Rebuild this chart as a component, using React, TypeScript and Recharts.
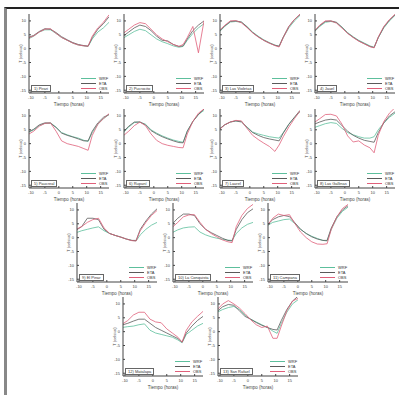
import { LineChart, Line, XAxis, YAxis, Legend } from "recharts"

const hours = [-11, -9, -7, -5, -3, -1, 1, 3, 5, 7, 9, 10.5, 12, 14, 16, 18]
const xTicks = [-10, -5, 0, 5, 10, 15]
const yTicks = [-15, -10, -5, 0, 5, 10]
const seriesKeys = ["wrf", "eta", "obs"]
const seriesNames = ["WRF", "ETA", "OBS"]

const stationNames = [
  "1) Pirari",
  "2) Pucrocito",
  "3) Las Violetas",
  "4) Jauel",
  "5) Paucreal",
  "6) Rupaní",
  "7) Laurel",
  "8) Las Gallinas",
  "9) El Pinar",
  "10) La Conquista",
  "11) Campana",
  "12) Matalapa",
  "13) San Rafael",
]

const wrf = [
  [3.5, 4.5, 6, 6.8, 6.8, 5.5, 4, 3, 2, 1.3, 1, 0.8, 3.5, 6, 7.5, 9.5],
  [3.8, 5, 6.2, 7, 6.5, 5, 3.5, 2.5, 1.8, 1, 0.5, 0.8, 3, 5.5, 7.5, 9],
  [6, 8, 9.6, 9.8, 9.5, 8, 6, 4.5, 3.2, 2.2, 1.3, 0.8, 4, 7.5, 10, 12],
  [6, 8, 9.5, 9.8, 9.4, 7.8, 5.8, 4.3, 3, 2, 1, 0.5, 4, 7.5, 10, 12],
  [4, 5, 6.5, 7.3, 7.5, 6, 4, 3.2, 2.5, 2, 1.2, 0.8, 4, 7, 9, 10.5],
  [4, 6, 7.6, 7.8, 7, 5, 3.8, 2.8, 2, 1.3, 0.8, 0.5, 4.5, 8, 10.5, 12],
  [5.2, 6.8, 7.8, 8.2, 8, 6, 4.2, 3.5, 3, 2.5, 2.2, 2, 4, 7, 9.5, 11.5],
  [5.8, 6.5, 7.2, 7.6, 7.3, 5.5, 4, 3.2, 2.5, 2, 2, 2.5, 5, 7.5, 9.5, 11],
  [1.8, 2.5, 3, 3.5, 3.9, 2.5, 1.5, 0.8, 0.2, -0.5, -1, -1.2, 1, 3, 4.5, 5.5],
  [1.8, 2.8, 3.5, 3.8, 3.9, 2, 1, 0.3, -0.2, -0.6, -0.9, -1, 1.5, 3.5, 4.8, 5.5],
  [4.3, 5.5, 6, 6.5, 6.7, 5, 3, 1.5, 0.5, -0.3, -1, -1.2, 3, 7, 9.5, 11],
  [1.5, 1.8, 2, 2.5, 2.8, 0.5, -0.5, -1, -1.5, -2, -3, -4, -1, 0.5, 2, 3],
  [7, 8, 8.7, 9.1, 8, 6, 4.5, 3.5, 2.5, 1.5, 0.2, -0.6, 3, 7, 10, 11.5],
]

const eta = [
  [4, 4.8, 6.2, 7.2, 7, 5.8, 4.3, 3.2, 2.2, 1.5, 1.1, 0.9, 4, 7, 9, 11.5],
  [4.5, 6, 7.5, 8.5, 8, 6.5, 4.5, 3, 2.8, 1.5, 0.8, 1, 3.5, 6.5, 8.5, 10],
  [6.2, 8.2, 9.8, 10, 9.6, 7.8, 5.8, 4.3, 3, 2, 1.2, 0.9, 4.2, 8, 10.5, 12.3],
  [6.2, 8.3, 9.8, 10, 9.5, 7.6, 5.6, 4.1, 2.8, 1.8, 0.8, 0.4, 4, 7.8, 10.3, 12.2],
  [4.2, 5.2, 6.8, 7.5, 7.4, 5.8, 3.8, 3, 2.4, 1.7, 1, 1, 4.5, 7.5, 9.5, 10.5],
  [4.2, 6.3, 7.8, 7.8, 6.8, 4.7, 3.5, 2.5, 1.7, 1, 0.4, 0.3, 4.5, 8, 10.5, 12.5],
  [5.2, 6.8, 7.8, 8.2, 7.8, 5.8, 4, 3, 2.2, 1.7, 1.3, 1, 3.8, 7, 9.5, 12],
  [7, 7.8, 8.5, 8.8, 8.5, 6.5, 4.5, 3, 2, 1.2, 0.8, 0.5, 4, 7.5, 10, 11.5],
  [2.7, 4, 7, 7, 6.5, 3, 1.5, 0.8, 0.2, -0.5, -1, -1, 3, 6, 8.5, 10.4],
  [4.9, 7, 8.5, 8.5, 8, 5, 3, 1.8, 0.8, -0.2, -1, -1.2, 3, 6.5, 9, 10.4],
  [4.5, 6.5, 7.5, 8, 7.6, 5.3, 3, 1.5, 0.3, -0.5, -1, -1, 3.5, 7.5, 10, 11.5],
  [2.4, 3, 3.8, 4.5, 4.5, 3, 1.5, 0.5, -0.5, -1.5, -2.5, -3.8, -0.5, 2, 4, 5.5],
  [7.3, 9, 9.8, 9.5, 7.5, 5.5, 4.5, 3.3, 2.3, 1.5, 0.8, 0.6, 4, 8, 11, 12.8],
]

const obs = [
  [3.8, 4.6, 6, 7, 7.2, 5.5, 4, 3, 2, 1.3, 1, 0.9, 4.5, 7.5, 9.5, 12.2],
  [5.5, 7, 8.5, 9.4, 9, 7, 5, 3.5, 2.5, 1.5, 0.8, 1.5, 4, 8, -1.5, 10],
  [6.5, 8.4, 10, 10.1, 9.3, 7.6, 5.7, 4.2, 3, 2, 1.1, 0.6, 4, 8, 10.5, 12.5],
  [6.3, 8.5, 10, 10, 9.2, 7.4, 5.5, 4, 2.7, 1.7, 0.7, 0.3, 4.2, 8, 10.5, 12.4],
  [3.3, 4.5, 6.3, 7.3, 7.5, 4.5, 1, 0, -0.5, -1, -1.8, -2.4, 3, 7, 9, 10.8],
  [2.8, 4.5, 6.5, 7.8, 6.5, 3.5, 1.2, 0, -0.6, -1, -1.4, -1.5, 3.5, 8, 11, 12.5],
  [5, 6.8, 7.8, 8.4, 8.2, 5.5, 3, 1.5, 0.2, -1, -2.8, -0.5, 2.5, 6, 9, 11.8],
  [7.6, 9, 10.5, 10.6, 10, 7, 2.8, 0.6, 1, -0.5, -1.5, -3.3, 3, 8, 11, 13],
  [3, 4, 5.5, 6.5, 7, 3.5, 1.5, 0.8, 0.2, -0.5, -1.1, -1.2, 2.5, 5.5, 8, 9.8],
  [3.7, 5.5, 7.5, 8.2, 8.3, 5.5, 3, 1.5, 0.3, -0.8, -1.5, -1.8, 4, 8, 10.5, 12],
  [4.3, 7, 8.5, 8, 8.3, 5, 2, 0, -1.5, -2.3, -2.4, -2.2, 3, 7.5, 10.5, 12],
  [2.7, 4, 6, 7, 7, 4.5, 3.5, 3.2, 1, -0.5, -2, -3.8, 0.5, 3.5, 5.5, 7.3],
  [7.9, 10, 11.2, 10, 8.5, 6.5, 4.3, 2.5, 1.5, 2, -2.4, -2.4, 2, 7.5, 11, 12],
]

// plot-area top-left corner of every panel
const panelPos = [
  [29, 14], [124, 14], [220, 14], [315, 14],
  [29, 109], [124, 109], [220, 109], [315, 109],
  [77, 203], [173, 203], [268, 203],
  [123, 297], [218, 297],
]

const PLOT_W = 80
const PLOT_H = 79
const Y_W = 16
const X_H = 14
const FONT = "'Liberation Sans', Arial, sans-serif"
const AXIS = "#444"

const colors: Record<string, string> = { wrf: "#5dbf9c", eta: "#5a5a5a", obs: "#e0607a" }

function panelLegend(name: string) {
  return () => (
    <div style={{ position: "relative", width: PLOT_W, height: 18, fontFamily: FONT, fontSize: 4, color: "#333" }}>
      <div
        style={{
          position: "absolute",
          left: 2,
          bottom: 1,
          border: "0.6px solid #666",
          padding: "0 2px",
          lineHeight: "5px",
          background: "#fff",
          whiteSpace: "nowrap",
        }}
      >
        {name}
      </div>
      <div style={{ position: "absolute", right: 2, bottom: 2 }}>
        {seriesKeys.map((k, i) => (
          <div key={k} style={{ display: "flex", alignItems: "center", height: 5, justifyContent: "flex-end" }}>
            <span style={{ width: 15, height: 0, borderTop: `0.8px solid ${colors[k]}`, marginRight: 3 }} />
            <span style={{ width: 8, lineHeight: "5px" }}>{seriesNames[i]}</span>
          </div>
        ))}
      </div>
    </div>
  )
}

function Panel({ idx }: { idx: number }) {
  const [left, top] = panelPos[idx]
  const data = hours.map((h, i) => ({ h, wrf: wrf[idx][i], eta: eta[idx][i], obs: obs[idx][i] }))
  return (
    <div style={{ position: "absolute", left: left - Y_W, top: top - 2 }}>
      <LineChart width={Y_W + PLOT_W + 2} height={2 + PLOT_H + X_H} data={data} margin={{ top: 2, right: 2, bottom: 0, left: 0 }}>
        <XAxis
          dataKey="h"
          type="number"
          domain={[-10.7, 18]}
          ticks={xTicks}
          allowDataOverflow
          height={X_H}
          tickSize={-2}
          tickMargin={5}
          stroke={AXIS}
          tick={{ fontSize: 4, fill: "#444", fontFamily: FONT }}
          label={{ value: "Tiempo (horas)", position: "insideBottom", offset: 1, fontSize: 4.5, fill: "#444", fontFamily: FONT }}
        />
        <XAxis
          xAxisId="top"
          orientation="top"
          dataKey="h"
          type="number"
          domain={[-10.7, 18]}
          ticks={xTicks}
          allowDataOverflow
          height={0}
          tick={false}
          tickSize={-2}
          stroke={AXIS}
        />
        <YAxis
          type="number"
          domain={[-16, 12.5]}
          ticks={yTicks}
          allowDataOverflow
          width={Y_W}
          tickSize={-2}
          tickMargin={5}
          stroke={AXIS}
          tick={{ fontSize: 4, fill: "#444", fontFamily: FONT }}
          label={{ value: "T (celsius)", angle: -90, position: "center", fontSize: 4, fill: "#444", fontFamily: FONT }}
        />
        <YAxis
          yAxisId="right"
          orientation="right"
          type="number"
          domain={[-16, 12.5]}
          ticks={yTicks}
          allowDataOverflow
          width={0}
          tick={false}
          tickSize={-2}
          stroke={AXIS}
        />
        <Legend
          layout="vertical"
          align="center"
          verticalAlign="middle"
          wrapperStyle={{ left: Y_W, top: 2 + PLOT_H - 18, width: PLOT_W, height: 18 }}
          content={panelLegend(stationNames[idx])}
        />
        {seriesKeys.map((k, i) => (
          <Line key={k} dataKey={k} name={seriesNames[i]} stroke={colors[k]} strokeWidth={0.8} dot={false} isAnimationActive={false} />
        ))}
      </LineChart>
    </div>
  )
}

export default function App() {
  return (
    <div style={{ position: "absolute", left: 0, top: 0, width: 399, height: 395, background: "#fff", overflow: "hidden" }}>
      <div
        style={{
          position: "absolute",
          left: 4,
          top: 7,
          width: 395,
          height: 388,
          borderTop: "2px solid #222",
          borderLeft: "3px solid #888",
          boxSizing: "border-box",
        }}
      />
      {panelPos.map((_, i) => (
        <Panel key={i} idx={i} />
      ))}
    </div>
  )
}
